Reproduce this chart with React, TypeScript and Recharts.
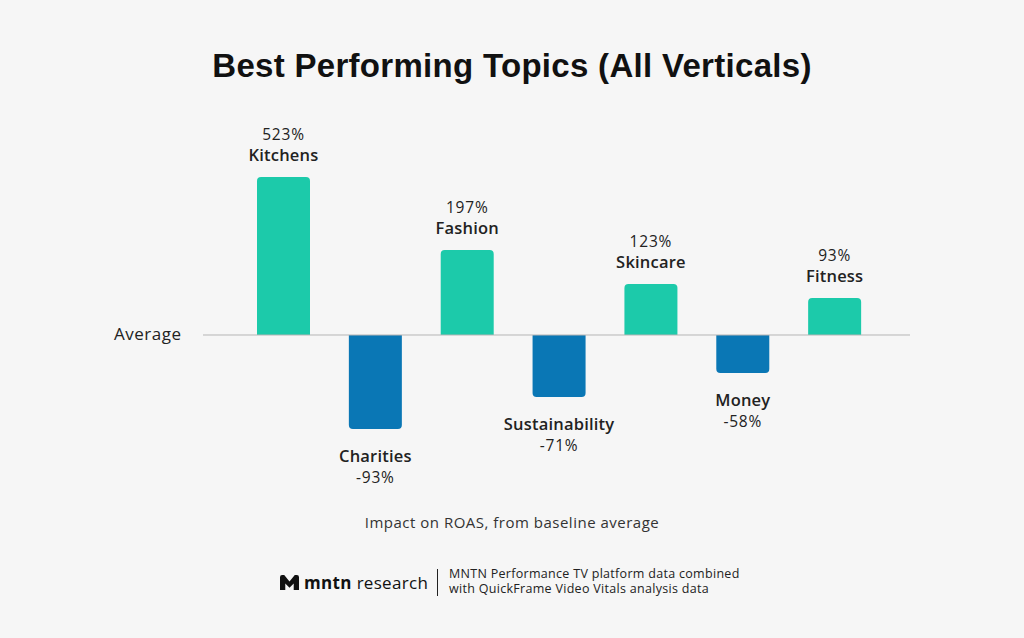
import React from 'react'
import { BarChart, Bar, XAxis, YAxis, Cell, LabelList, ReferenceLine } from 'recharts'

// topics in drawing order
const topics = ['Kitchens', 'Charities', 'Fashion', 'Sustainability', 'Skincare', 'Money', 'Fitness']
// impact on ROAS vs baseline average, as printed on the labels
const roasImpact = [523, -93, 197, -71, 123, -58, 93]
// bar lengths as drawn in the picture (the source chart is not to scale)
const barLength = [158, -94, 85, -62, 51, -38, 37]

const data = topics.map((topic, i) => ({
  topic,
  impact: roasImpact[i],
  length: barLength[i]
}))

const TEAL = '#1ccaaa'
const BLUE = '#0a77b5'
const FONT = '"Open Sans", sans-serif'

const BarLabel = (props: any) => {
  const { x, y, width, height, index } = props
  const top = Math.min(y, y + height)
  const bottom = Math.max(y, y + height)
  const cx = x + width / 2
  const val = roasImpact[index]
  const name = topics[index]
  if (val >= 0) {
    return (
      <g fontFamily={FONT} textAnchor="middle" fill="#222">
        <text x={cx} y={top - 41} fontSize={15.5} letterSpacing={0.8} dominantBaseline="middle">{val}%</text>
        <text x={cx} y={top - 20} fontSize={16.5} fontWeight={600} letterSpacing={0.2} dominantBaseline="middle">{name}</text>
      </g>
    )
  }
  return (
    <g fontFamily={FONT} textAnchor="middle" fill="#222">
      <text x={cx} y={bottom + 29} fontSize={16.5} fontWeight={600} letterSpacing={0.2} dominantBaseline="middle">{name}</text>
      <text x={cx} y={bottom + 50} fontSize={15.5} letterSpacing={0.8} dominantBaseline="middle">{val}%</text>
    </g>
  )
}

export default function App() {
  return (
    <div style={{ position: 'fixed', left: 0, top: 0, width: 1024, height: 638, background: '#f6f6f6', overflow: 'hidden' }}>
      <div
        style={{
          position: 'absolute', left: 0, top: 47, width: 1024, textAlign: 'center',
          fontFamily: '"Liberation Sans", Arial, sans-serif', fontWeight: 700, fontSize: 33,
          letterSpacing: 0.3, color: '#111'
        }}
      >
        Best Performing Topics (All Verticals)
      </div>

      <div style={{ position: 'absolute', left: 0, top: 0 }}>
        <BarChart
          width={1024}
          height={638}
          data={data}
          margin={{ top: 135, right: 114, bottom: 103, left: 203 }}
          barSize={53}
        >
          <XAxis dataKey="topic" hide padding={{ left: 35, right: 29 }} />
          <YAxis hide domain={[-200, 200]} />
          <ReferenceLine y={0} stroke="#b5b5b5" strokeWidth={1} />
          <Bar dataKey="length" isAnimationActive={false} radius={[4, 4, 0, 0]}>
            {data.map((d, i) => (
              <Cell key={i} fill={d.length >= 0 ? TEAL : BLUE} />
            ))}
            <LabelList dataKey="impact" content={BarLabel} />
          </Bar>
        </BarChart>
      </div>

      <div style={{ position: 'absolute', left: 114, top: 322, fontFamily: FONT, fontSize: 17, letterSpacing: 0.5, color: '#222' }}>
        Average
      </div>

      <div style={{ position: 'absolute', left: 0, top: 512, width: 1024, textAlign: 'center', fontFamily: FONT, fontSize: 15, letterSpacing: 0.5, color: '#333' }}>
        Impact on ROAS, from baseline average
      </div>

      <div style={{ position: 'absolute', left: 280, top: 569, height: 27, display: 'flex', alignItems: 'center', fontFamily: FONT }}>
        <svg width={19} height={15} viewBox="0 0 18 14" style={{ marginRight: 5 }}>
          <path d="M0 14 L0 2 Q0 0 2 0 L4 0 L9 6 L14 0 L16 0 Q18 0 18 2 L18 14 L13 14 L13 8 L9 12 L5 8 L5 14 Z" fill="#111" />
        </svg>
        <span style={{ fontSize: 17, fontWeight: 700, color: '#111', letterSpacing: 0.3 }}>mntn</span>
        <span style={{ fontSize: 17, fontWeight: 500, color: '#111', marginLeft: 5, letterSpacing: 0.3 }}>research</span>
      </div>
      <div style={{ position: 'absolute', left: 437, top: 569, width: 1, height: 27, background: '#222' }} />
      <div style={{ position: 'absolute', left: 449, top: 567, fontFamily: FONT, fontSize: 12.5, letterSpacing: 0.3, lineHeight: '14px', color: '#222', whiteSpace: 'nowrap' }}>
        MNTN Performance TV platform data combined
      </div>
      <div style={{ position: 'absolute', left: 449, top: 582, fontFamily: FONT, fontSize: 12.5, letterSpacing: 0.3, lineHeight: '14px', color: '#222', whiteSpace: 'nowrap' }}>
        with QuickFrame Video Vitals analysis data
      </div>
    </div>
  )
}
